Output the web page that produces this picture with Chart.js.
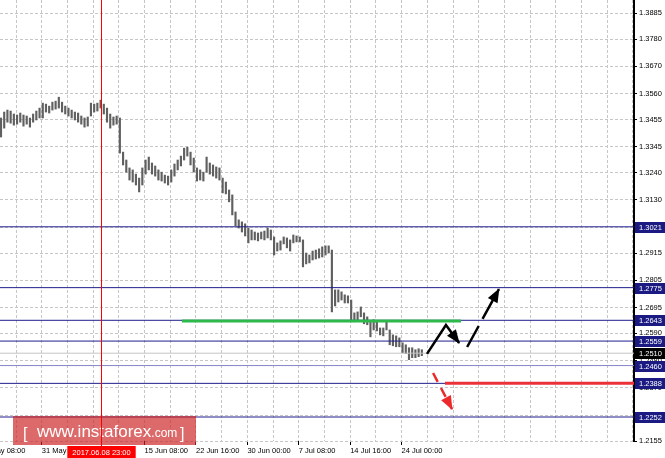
<!DOCTYPE html>
<html>
<head>
<meta charset="utf-8">
<script src="https://cdn.jsdelivr.net/npm/chart.js@4"></script>
<style>
  html, body { margin: 0; padding: 0; background: #fff; }
  #wrap { width: 665px; height: 458px; }
</style>
</head>
<body>
<div id="wrap"><canvas id="chart"></canvas></div>
<script>
// H4 bars, oldest first (high / low)
const highs = [
  1.3461, 1.3485, 1.3493, 1.3489, 1.3477, 1.3473, 1.3481, 1.3473, 1.3469, 1.3461,
  1.3477, 1.3489, 1.3501, 1.3521, 1.3517, 1.3509, 1.3525, 1.3529, 1.3545, 1.3525,
  1.3509, 1.3501, 1.3493, 1.3485, 1.3481, 1.3469, 1.3461, 1.3465, 1.3521, 1.3517,
  1.3521, 1.3533, 1.3517, 1.3501, 1.3477, 1.3465, 1.3469, 1.3461, 1.3323, 1.3291,
  1.3259, 1.3251, 1.3234, 1.3218, 1.3259, 1.3291, 1.3303, 1.3279, 1.3267, 1.3251,
  1.3242, 1.3230, 1.3226, 1.3251, 1.3275, 1.3291, 1.3307, 1.3339, 1.3343, 1.3323,
  1.3299, 1.3259, 1.3251, 1.3242, 1.3303, 1.3279, 1.3271, 1.3263, 1.3259, 1.3218,
  1.3202, 1.3170, 1.3150, 1.3081, 1.3049, 1.3041, 1.3033, 1.3016, 1.3008, 1.3000,
  1.2996, 1.3000, 1.3004, 1.3016, 1.3008, 1.2980, 1.2956, 1.2964, 1.2980, 1.2976,
  1.2968, 1.2988, 1.2984, 1.2980, 1.2968, 1.2915, 1.2907, 1.2923, 1.2927, 1.2932,
  1.2940, 1.2944, 1.2944, 1.2927, 1.2766, 1.2766, 1.2758, 1.2746, 1.2742, 1.2725,
  1.2673, 1.2677, 1.2697, 1.2673, 1.2657, 1.2637, 1.2645, 1.2637, 1.2612, 1.2612,
  1.2637, 1.2604, 1.2584, 1.2580, 1.2572, 1.2552, 1.2544, 1.2532, 1.2532, 1.2524,
  1.2528, 1.2524
];
const lows = [
  1.3384, 1.3420, 1.3444, 1.3440, 1.3432, 1.3436, 1.3444, 1.3428, 1.3436, 1.3424,
  1.3444, 1.3453, 1.3461, 1.3461, 1.3485, 1.3481, 1.3493, 1.3497, 1.3501, 1.3485,
  1.3477, 1.3469, 1.3461, 1.3453, 1.3444, 1.3436, 1.3424, 1.3428, 1.3469, 1.3485,
  1.3489, 1.3501, 1.3477, 1.3444, 1.3420, 1.3432, 1.3436, 1.3319, 1.3271, 1.3242,
  1.3210, 1.3202, 1.3190, 1.3162, 1.3190, 1.3234, 1.3251, 1.3234, 1.3226, 1.3210,
  1.3206, 1.3198, 1.3190, 1.3202, 1.3226, 1.3251, 1.3267, 1.3291, 1.3307, 1.3271,
  1.3242, 1.3206, 1.3210, 1.3206, 1.3242, 1.3234, 1.3226, 1.3218, 1.3210, 1.3158,
  1.3154, 1.3122, 1.3069, 1.3025, 1.3016, 1.3000, 1.2984, 1.2956, 1.2968, 1.2968,
  1.2964, 1.2972, 1.2968, 1.2976, 1.2968, 1.2907, 1.2923, 1.2927, 1.2952, 1.2936,
  1.2923, 1.2956, 1.2960, 1.2960, 1.2859, 1.2871, 1.2875, 1.2887, 1.2891, 1.2895,
  1.2899, 1.2907, 1.2915, 1.2677, 1.2701, 1.2717, 1.2725, 1.2713, 1.2713, 1.2637,
  1.2637, 1.2645, 1.2657, 1.2629, 1.2625, 1.2576, 1.2604, 1.2600, 1.2584, 1.2580,
  1.2604, 1.2544, 1.2540, 1.2536, 1.2536, 1.2512, 1.2508, 1.2484, 1.2492, 1.2492,
  1.2496, 1.2500
];

// axis labels
const priceTicks = [1.3885, 1.3780, 1.3670, 1.3560, 1.3455, 1.3345, 1.3240, 1.3130, 1.3020,
  1.2915, 1.2805, 1.2695, 1.2590, 1.2480, 1.2370, 1.2260, 1.2155];
const timeLabels = ["May 08:00", "31 May", "", "15 Jun 08:00", "22 Jun 16:00",
  "30 Jun 00:00", "7 Jul 08:00", "14 Jul 16:00", "24 Jul 00:00"];
const firstTimeTick = -3.3;   // bar index of first label
const barsPerGrid = 8;

// levels drawn on the chart
const levels = [1.3021, 1.2775, 1.2643, 1.2559, 1.2460, 1.2388, 1.2252];
const bidPrice = 1.2510;
const crossBar = 31;
const crossLabel = "2017.06.08 23:00";

// green support segment, red break line
const greenX = [56.3, 143.2];
const greenY = [1.2640, 1.2640];
const redX = [138.2, 197.1];
const redY = [1.2388, 1.2388];

// forecast arrows
const upDownX = [132.6, 138.5, 142.6];
const upDownY = [1.2507, 1.2624, 1.2551];
const upX = [145.1, 155.0];
const upY = [1.2535, 1.2769];
const downX = [134.5, 140.4];
const downY = [1.2430, 1.2284];

const xMin = -0.31, xMax = 197.04;
const yMin = 1.2155, yMax = 1.3938;

const FONT = '"Liberation Sans", Arial, sans-serif';
Chart.defaults.font.family = FONT;
Chart.defaults.color = '#000';

const gridTicks = [];
for (let k = 0; k <= 25; k++) gridTicks.push(Math.round((firstTimeTick + barsPerGrid * k) * 10) / 10);

function pts(xs, ys) {
  return xs.map((x, i) => ({ x: x, y: ys[i] }));
}

function levelLine(v, color) {
  return {
    type: 'line',
    data: pts([xMin, xMax], [v, v]),
    borderColor: color,
    borderWidth: 1,
    pointRadius: 0,
    order: 5
  };
}

const datasets = [
  {
    type: 'bar',
    data: highs.map((h, i) => ({ x: i, y: [lows[i], h] })),
    backgroundColor: '#606060',
    barThickness: 1.5,
    order: 10
  },
  levelLine(bidPrice, '#c4c4c4')
];
levels.forEach(v => datasets.push(levelLine(v, v === 1.2460 ? '#8585c8' : '#1e1e8c')));

datasets.push({ type: 'line', data: pts(greenX, greenY), borderColor: '#2db84b', borderWidth: 3, pointRadius: 0, order: 3 });
datasets.push({ type: 'line', data: pts(redX, redY), borderColor: '#ec3038', borderWidth: 3, pointRadius: 0, order: 3 });
datasets.push({ type: 'line', data: pts(upDownX, upDownY), borderColor: '#000', borderWidth: 2.5, pointRadius: 0, order: 1, arrowHead: true });
datasets.push({ type: 'line', data: pts(upX, upY), borderColor: '#000', borderWidth: 2.5, borderDash: [24, 8], pointRadius: 0, order: 1, arrowHead: true });
datasets.push({ type: 'line', data: pts(downX, downY), borderColor: '#ec2a2a', borderWidth: 2.5, borderDash: [10, 7], pointRadius: 0, order: 1, arrowHead: true });

// arrow heads at the end of the forecast lines
const arrowPlugin = {
  id: 'arrows',
  afterDatasetsDraw(chart) {
    const ctx = chart.ctx;
    chart.data.datasets.forEach((ds, i) => {
      if (!ds.arrowHead) return;
      const p = chart.getDatasetMeta(i).data;
      const a = p[p.length - 2], b = p[p.length - 1];
      const ang = Math.atan2(b.y - a.y, b.x - a.x);
      ctx.save();
      ctx.translate(b.x, b.y);
      ctx.rotate(ang);
      ctx.fillStyle = ds.borderColor;
      ctx.beginPath();
      ctx.moveTo(1, 0);
      ctx.lineTo(-13, -5.5);
      ctx.lineTo(-13, 5.5);
      ctx.closePath();
      ctx.fill();
      ctx.restore();
    });
  }
};

// watermark, crosshair and price boxes
const overlayPlugin = {
  id: 'overlay',
  afterDraw(chart) {
    const { ctx, chartArea: a, scales: { x, y } } = chart;
    ctx.save();

    // watermark
    ctx.fillStyle = 'rgba(205,35,35,0.68)';
    ctx.fillRect(13, 416, 183, 29);
    ctx.fillStyle = '#fff';
    ctx.textBaseline = 'alphabetic';
    ctx.textAlign = 'left';
    ctx.font = '16px ' + FONT;
    ctx.fillText('[', 23, 439);
    ctx.font = '17px ' + FONT;
    ctx.fillText('www.instaforex', 37, 437);
    let wx = 37 + ctx.measureText('www.instaforex').width;
    ctx.font = '12px ' + FONT;
    ctx.fillText('.com', wx, 437);
    ctx.font = '16px ' + FONT;
    ctx.fillText(']', 180, 439);

    // crosshair
    const cx = Math.round(x.getPixelForValue(crossBar)) + 0.5;
    ctx.strokeStyle = '#ff0000';
    ctx.lineWidth = 1;
    ctx.beginPath();
    ctx.moveTo(cx, a.top);
    ctx.lineTo(cx, a.bottom + 5);
    ctx.stroke();
    ctx.font = '7.5px ' + FONT;
    const w = ctx.measureText(crossLabel).width + 10;
    ctx.fillStyle = '#ff0000';
    ctx.fillRect(cx - w / 2, a.bottom + 5, w, 12);
    ctx.fillStyle = '#fff';
    ctx.textAlign = 'center';
    ctx.textBaseline = 'middle';
    ctx.fillText(crossLabel, cx, a.bottom + 11.5);

    // price boxes on the right scale
    ctx.textAlign = 'left';
    const box = (v, bg) => {
      const py = Math.round(y.getPixelForValue(v));
      ctx.fillStyle = bg;
      ctx.fillRect(a.right + 1, py - 5, 30, 11);
      ctx.fillStyle = '#fff';
      ctx.fillText(v.toFixed(4), a.right + 5, py + 0.5);
    };
    levels.forEach(v => box(v, '#1a1a82'));
    box(bidPrice, '#000');

    ctx.restore();
  }
};

new Chart(document.getElementById('chart'), {
  type: 'bar',
  data: { datasets: datasets },
  options: {
    responsive: true,
    maintainAspectRatio: false,
    animation: false,
    layout: { padding: 0, autoPadding: false },
    plugins: { legend: { display: false }, tooltip: { enabled: false } },
    scales: {
      x: {
        type: 'linear',
        min: xMin,
        max: xMax,
        offset: false,
        afterBuildTicks: s => { s.ticks = gridTicks.map(v => ({ value: v })); },
        afterFit: s => { s.height = 17; s.paddingLeft = 0; s.paddingRight = 0; },
        grid: {
          offset: false,
          color: '#c6c6c6',
          tickLength: 4,
          tickBorderDash: [],
          tickColor: c => (c.tick && c.tick.label) ? '#000' : 'rgba(0,0,0,0)'
        },
        border: { display: false, dash: [3, 2] },
        ticks: {
          autoSkip: false,
          maxRotation: 0,
          align: 'start',
          padding: 1,
          font: { size: 7.5 },
          callback: (v, i) => (i % 2 === 0 ? (timeLabels[i / 2] || '') : '')
        }
      },
      y: {
        type: 'linear',
        position: 'right',
        min: yMin,
        max: yMax,
        afterBuildTicks: s => { s.ticks = priceTicks.map(v => ({ value: v })); },
        afterFit: s => { s.width = 31; s.paddingTop = 0; s.paddingBottom = 0; },
        grid: {
          color: '#c6c6c6',
          tickLength: 3,
          tickBorderDash: [],
          tickColor: '#000'
        },
        border: { display: true, color: '#000', width: 2, dash: [3, 2] },
        ticks: {
          padding: 2,
          font: { size: 7.5 },
          callback: v => v.toFixed(4)
        }
      }
    }
  },
  plugins: [arrowPlugin, overlayPlugin]
});
</script>
</body>
</html>
